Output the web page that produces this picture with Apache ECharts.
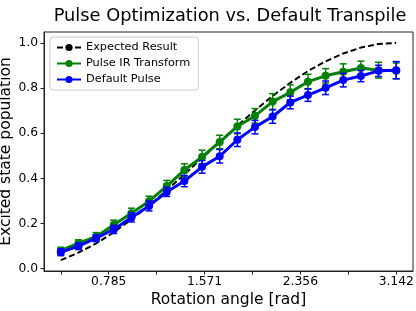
<!DOCTYPE html>
<html>
<head>
<meta charset="utf-8">
<script src="https://cdn.jsdelivr.net/npm/echarts@6/dist/echarts.min.js"></script>
<style>
html,body{margin:0;padding:0;background:#fff;}
#c{width:416px;height:311px;}
</style>
</head>
<body>
<div id="c"></div>
<script>
// Rotation angles (rad)
var angles = [0.3927, 0.5374, 0.6821, 0.8267, 0.9714, 1.1161, 1.2608, 1.4054, 1.5501, 1.6948,
              1.8395, 1.9841, 2.1288, 2.2735, 2.4182, 2.5628, 2.7075, 2.8522, 2.9969, 3.1416];
var expected = [0.038, 0.071, 0.112, 0.161, 0.218, 0.280, 0.347, 0.418, 0.490, 0.562,
                0.633, 0.701, 0.765, 0.823, 0.875, 0.918, 0.953, 0.979, 0.995, 1.000];
var pulseIR = [0.080, 0.113, 0.142, 0.195, 0.246, 0.299, 0.366, 0.437, 0.495, 0.561,
               0.630, 0.677, 0.740, 0.781, 0.828, 0.854, 0.872, 0.889, 0.879, 0.876];
var pulseIRErr = [0.015, 0.015, 0.018, 0.020, 0.022, 0.022, 0.025, 0.028, 0.030, 0.030,
                  0.032, 0.032, 0.035, 0.033, 0.033, 0.032, 0.035, 0.030, 0.035, 0.035];
var defaultPulse = [0.073, 0.100, 0.135, 0.174, 0.227, 0.278, 0.340, 0.388, 0.451, 0.498,
                    0.571, 0.627, 0.674, 0.736, 0.769, 0.801, 0.835, 0.853, 0.876, 0.879];
var defaultErr = [0.015, 0.015, 0.015, 0.018, 0.020, 0.022, 0.020, 0.025, 0.028, 0.030,
                  0.030, 0.030, 0.030, 0.028, 0.028, 0.030, 0.030, 0.025, 0.025, 0.038];
var xTickValues = [0.3927, 0.7854, 1.1781, 1.5708, 1.9635, 2.3562, 2.7489, 3.1416];
var xLabelValues = [0.7854, 1.5708, 2.3562, 3.1416];
var yTickValues = [0.0, 0.2, 0.4, 0.6, 0.8, 1.0];

var FONT = 'DejaVu Sans';
function pairs(xs, ys) { return xs.map(function (x, i) { return [x, ys[i]]; }); }
function triples(xs, ys, es) { return xs.map(function (x, i) { return [x, ys[i], es[i]]; }); }

function errRender(color) {
  return function (params, api) {
    var x = api.value(0), y = api.value(1), e = api.value(2);
    var lo = api.coord([x, y - e]);
    var hi = api.coord([x, y + e]);
    var cw = 3.5;
    var st = { stroke: color, lineWidth: 1.5 };
    return {
      type: 'group',
      children: [
        { type: 'line', shape: { x1: lo[0], y1: lo[1], x2: hi[0], y2: hi[1] }, style: st },
        { type: 'line', shape: { x1: lo[0] - cw, y1: lo[1], x2: lo[0] + cw, y2: lo[1] }, style: st },
        { type: 'line', shape: { x1: hi[0] - cw, y1: hi[1], x2: hi[0] + cw, y2: hi[1] }, style: st }
      ]
    };
  };
}

var chart = echarts.init(document.getElementById('c'), null, { renderer: 'canvas' });
chart.setOption({
  animation: false,
  backgroundColor: '#fff',
  title: {
    text: 'Pulse Optimization vs. Default Transpile',
    left: 230, top: 7, textAlign: 'center', padding: 0,
    textStyle: { fontFamily: FONT, fontSize: 17.8, fontWeight: 'normal', color: '#000' }
  },
  legend: {
    orient: 'vertical', left: 50, top: 37,
    data: ['Expected Result', 'Pulse IR Transform', 'Default Pulse'],
    itemWidth: 24, itemHeight: 9, itemGap: 5,
    padding: [5, 8, 5, 6],
    backgroundColor: '#fff', borderColor: '#ccc', borderWidth: 1, borderRadius: 3,
    textStyle: { fontFamily: FONT, fontSize: 11.3, color: '#000' }
  },
  grid: {
    left: 44, right: 3, top: 32, bottom: 40,
    outerBoundsMode: 'none', containLabel: false,
    show: true, borderColor: '#222', borderWidth: 1, backgroundColor: '#fff'
  },
  xAxis: {
    type: 'value', min: 0.255, max: 3.279,
    name: 'Rotation angle [rad]', nameLocation: 'middle', nameGap: 21, nameMoveOverlap: false,
    nameTextStyle: { fontFamily: FONT, fontSize: 15.5, color: '#000' },
    axisLine: { onZero: false, lineStyle: { color: '#222' } },
    axisTick: { customValues: xTickValues, length: 3.5, lineStyle: { color: '#222' } },
    axisLabel: {
      customValues: xLabelValues, fontFamily: FONT, fontSize: 12.3, color: '#000', margin: 5,
      formatter: function (v) { return v.toFixed(3); }
    },
    splitLine: { show: false }
  },
  yAxis: {
    type: 'value', min: -0.01, max: 1.048,
    name: 'Excited state population', nameLocation: 'middle', nameGap: 30, nameMoveOverlap: false,
    nameTextStyle: { fontFamily: FONT, fontSize: 15.5, color: '#000' },
    axisLine: { show: true, onZero: false, lineStyle: { color: '#222' } },
    axisTick: { show: true, customValues: yTickValues, length: 3.5, lineStyle: { color: '#222' } },
    axisLabel: {
      customValues: yTickValues, fontFamily: FONT, fontSize: 12.3, color: '#000', margin: 6,
      formatter: function (v) { return v.toFixed(1); }
    },
    splitLine: { show: false }
  },
  series: [
    {
      name: 'Expected Result', type: 'line', data: pairs(angles, expected),
      showSymbol: false, symbol: 'none',
      lineStyle: { color: '#000', width: 2, type: [6, 3] }, itemStyle: { color: '#000' }, z: 2
    },
    {
      name: 'irErr', type: 'custom', data: triples(angles, pulseIR, pulseIRErr),
      renderItem: errRender('#008000'), z: 3
    },
    {
      name: 'Pulse IR Transform', type: 'line', data: pairs(angles, pulseIR),
      symbol: 'circle', symbolSize: 8,
      lineStyle: { color: '#008000', width: 3 }, itemStyle: { color: '#008000' }, z: 4
    },
    {
      name: 'defErr', type: 'custom', data: triples(angles, defaultPulse, defaultErr),
      renderItem: errRender('#0000ff'), z: 5
    },
    {
      name: 'Default Pulse', type: 'line', data: pairs(angles, defaultPulse),
      symbol: 'circle', symbolSize: 8,
      lineStyle: { color: '#0000ff', width: 3 }, itemStyle: { color: '#0000ff' }, z: 6
    }
  ]
});
</script>
</body>
</html>
